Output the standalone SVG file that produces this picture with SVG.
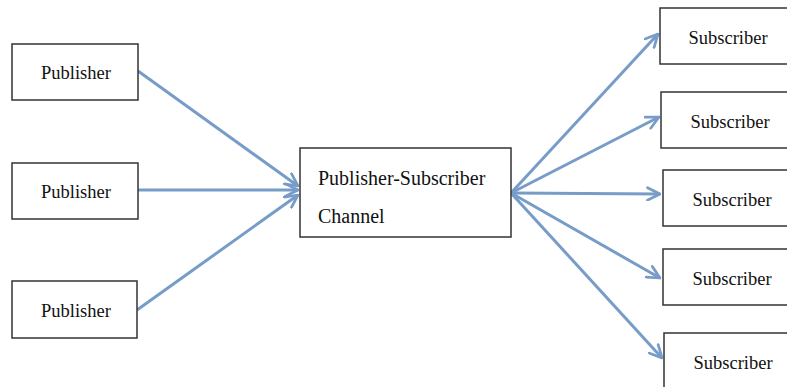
<svg xmlns="http://www.w3.org/2000/svg" width="787" height="387" viewBox="0 0 787 387">
<style>
.box{fill:#fff;stroke:#333;stroke-width:1.5}
.t{font-family:"Liberation Serif","Times New Roman",serif;font-size:18.5px;fill:#111}
.c{stroke:#779cc8;stroke-width:3;fill:none;marker-end:url(#ah)}
</style>
<defs>
<marker id="ah" viewBox="0 0 12 12" refX="11" refY="6" markerWidth="5" markerHeight="5" orient="auto" markerUnits="strokeWidth">
<polyline points="1,1 11,6 1,11" fill="none" stroke="#779cc8" stroke-width="2.2" stroke-linecap="round" stroke-linejoin="round"/>
</marker>
</defs>
<rect width="787" height="387" fill="#fff"/>
<g id="connectors">
<line class="c" x1="138" y1="71" x2="298" y2="186"/>
<line class="c" x1="138" y1="190" x2="298" y2="190"/>
<line class="c" x1="137" y1="310" x2="298" y2="195"/>
<line class="c" x1="511" y1="193" x2="658" y2="34"/>
<line class="c" x1="511" y1="193" x2="659" y2="117"/>
<line class="c" x1="511" y1="193" x2="660" y2="194"/>
<line class="c" x1="511" y1="193" x2="660" y2="278"/>
<line class="c" x1="511" y1="193" x2="662" y2="358"/>
</g>
<g id="pub1"><rect class="box" x="12" y="44" width="126" height="56"/><text class="t" x="76" y="79" text-anchor="middle">Publisher</text></g>
<g id="pub2"><rect class="box" x="12" y="163" width="126" height="56"/><text class="t" x="76" y="198" text-anchor="middle">Publisher</text></g>
<g id="pub3"><rect class="box" x="12" y="281" width="125" height="57"/><text class="t" x="76" y="317" text-anchor="middle">Publisher</text></g>
<g id="channel"><rect class="box" x="300" y="148" width="211" height="89"/>
<text class="t" x="318" y="185" style="font-size:20px">Publisher-Subscriber</text>
<text class="t" x="318" y="223" style="font-size:20px">Channel</text></g>
<g id="sub1"><rect class="box" x="660" y="8" width="140" height="56"/><text class="t" x="728" y="44" text-anchor="middle">Subscriber</text></g>
<g id="sub2"><rect class="box" x="661" y="92" width="140" height="56"/><text class="t" x="730" y="128" text-anchor="middle">Subscriber</text></g>
<g id="sub3"><rect class="box" x="663" y="170" width="140" height="56"/><text class="t" x="732" y="206" text-anchor="middle">Subscriber</text></g>
<g id="sub4"><rect class="box" x="663" y="249" width="140" height="56"/><text class="t" x="732" y="285" text-anchor="middle">Subscriber</text></g>
<g id="sub5"><rect class="box" x="664" y="333" width="140" height="60"/><text class="t" x="733" y="369" text-anchor="middle">Subscriber</text></g>
</svg>
